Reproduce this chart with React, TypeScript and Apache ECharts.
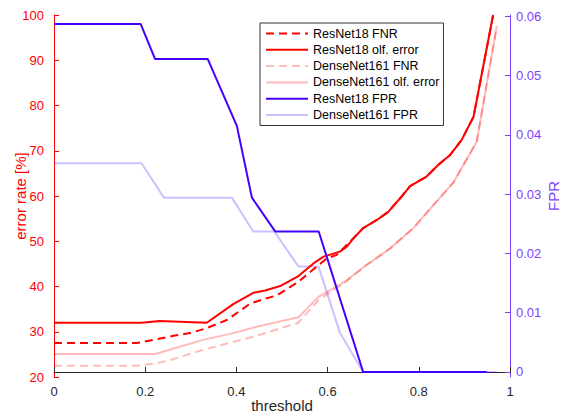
import React, { useEffect, useRef } from "react";
import * as echarts from "echarts";

// ResNet18 olf. error
const resErrX = [0, 0.192, 0.232, 0.335, 0.393, 0.437, 0.463, 0.496, 0.536, 0.569, 0.591, 0.627, 0.642, 0.66, 0.678, 0.708, 0.733, 0.759, 0.781, 0.817, 0.843, 0.868, 0.894, 0.92, 0.963];
const resErrY = [32.0, 32.0, 32.4, 32.0, 36.1, 38.6, 39.1, 40.1, 42.3, 45.1, 46.6, 47.7, 48.8, 51.0, 52.9, 54.7, 56.5, 59.5, 62.2, 64.3, 66.9, 69.0, 72.4, 77.5, 100];
// ResNet18 FNR
const resFnrX = [0, 0.181, 0.218, 0.262, 0.298, 0.335, 0.379, 0.43, 0.459, 0.488, 0.534, 0.569, 0.598, 0.62, 0.645, 0.66, 0.678, 0.708, 0.733, 0.759, 0.781, 0.817, 0.843, 0.868, 0.894, 0.92, 0.963];
const resFnrY = [27.5, 27.5, 28.2, 29.1, 29.7, 30.8, 32.6, 36.2, 37.2, 38.0, 40.9, 43.8, 46.2, 47.0, 49.5, 51.0, 52.9, 54.7, 56.5, 59.5, 62.2, 64.3, 66.9, 69.0, 72.4, 77.5, 100];
// DenseNet161 olf. error
const denErrX = [0, 0.2215, 0.327, 0.393, 0.444, 0.536, 0.58, 0.638, 0.686, 0.737, 0.788, 0.832, 0.876, 0.927, 0.971];
const denErrY = [25.1, 25.1, 28.2, 29.7, 31.1, 33.2, 37.7, 41.1, 44.8, 48.4, 52.9, 58.0, 63.0, 72.0, 97.5];
// DenseNet161 FNR
const denFnrX = [0, 0.181, 0.2215, 0.247, 0.327, 0.444, 0.536, 0.58, 0.638, 0.686, 0.737, 0.788, 0.832, 0.876, 0.927, 0.971];
const denFnrY = [22.5, 22.5, 23.0, 23.5, 26.0, 29.1, 32.0, 37.0, 40.9, 44.8, 48.4, 52.9, 58.0, 63.0, 72.0, 97.5];
// ResNet18 FPR
const resFprX = [0, 0.19, 0.2215, 0.337, 0.401, 0.434, 0.485, 0.5805, 0.678, 0.949];
const resFprY = [0.0587, 0.0587, 0.0528, 0.0528, 0.0415, 0.0294, 0.0237, 0.0237, 0, 0];
// DenseNet161 FPR
const denFprX = [0, 0.192, 0.241, 0.39, 0.437, 0.483, 0.536, 0.58, 0.627, 0.678, 0.971];
const denFprY = [0.0352, 0.0352, 0.0294, 0.0294, 0.0237, 0.0237, 0.0178, 0.0178, 0.0066, 0, 0];

const fprTicks = [0, 0.01, 0.02, 0.03, 0.04, 0.05, 0.06];
const legendNames = [
  "ResNet18 FNR",
  "ResNet18 olf. error",
  "DenseNet161 FNR",
  "DenseNet161 olf. error",
  "ResNet18 FPR",
  "DenseNet161 FPR",
];

const zip = (xs: number[], ys: number[]) => xs.map((x, i) => [x, ys[i]]);

const FONT = "Liberation Sans, Arial, Helvetica, sans-serif";
const RED = "#ff0000";
const LIGHT_RED = "rgba(255,0,0,0.27)";
const BLUE = "#4400ff";
const LIGHT_BLUE = "rgba(68,0,255,0.25)";
const PURPLE = "#7f3fff";
const GRAY = "#262626";

export default function App() {
  const ref = useRef<HTMLDivElement>(null);
  useEffect(() => {
    if (!ref.current) return;
    const chart = echarts.init(ref.current, undefined, { renderer: "svg" });
    const line = (name: string, data: number[][], color: string, dashed: boolean, yAxisIndex: number) => ({
      name,
      type: "line",
      data,
      yAxisIndex,
      symbol: "none",
      showSymbol: false,
      lineStyle: { color, width: 2, type: dashed ? [8, 5] : "solid" },
      itemStyle: { color },
      emphasis: { disabled: true },
    });
    chart.setOption({
      animation: false,
      textStyle: { fontFamily: FONT },
      grid: { left: 54, right: 55, top: 15, bottom: 39, outerBoundsMode: "none", containLabel: false },
      legend: {
        data: legendNames,
        orient: "vertical",
        left: 260,
        top: 23,
        itemWidth: 42,
        itemHeight: 14,
        itemGap: 3.3,
        padding: [4, 4, 4, 5],
        borderColor: "#333",
        borderWidth: 1,
        backgroundColor: "#fff",
        itemStyle: { opacity: 0 },
        textStyle: { fontSize: 12.5, color: "#000", fontFamily: FONT },
      },
      xAxis: {
        type: "value",
        min: 0,
        max: 1,
        interval: 0.2,
        name: "threshold",
        nameLocation: "middle",
        nameGap: 21,
        nameMoveOverlap: false,
        nameTextStyle: { fontSize: 15, color: GRAY, fontFamily: FONT },
        axisLine: { lineStyle: { color: GRAY, width: 1 } },
        axisTick: { inside: true, length: 5, lineStyle: { color: GRAY } },
        axisLabel: { fontSize: 13, color: GRAY, margin: 8, fontFamily: FONT },
        splitLine: { show: false },
      },
      yAxis: [
        {
          type: "value",
          position: "left",
          min: 20,
          max: 100,
          interval: 10,
          name: "error rate [%]",
          nameLocation: "middle",
          nameRotate: 90,
          nameGap: 26,
          nameMoveOverlap: false,
          nameTextStyle: { fontSize: 15, color: RED, fontFamily: FONT },
          axisLine: { show: true, lineStyle: { color: RED, width: 1 } },
          axisTick: { show: true, inside: true, length: 5, lineStyle: { color: RED } },
          axisLabel: { fontSize: 13, color: RED, margin: 10, fontFamily: FONT },
          splitLine: { show: false },
        },
        {
          type: "value",
          position: "right",
          min: -0.00085,
          max: 0.0602,
          name: "FPR",
          nameLocation: "middle",
          nameRotate: 90,
          nameGap: 36,
          nameMoveOverlap: false,
          nameTextStyle: { fontSize: 15, color: PURPLE, fontFamily: FONT },
          axisLine: { show: true, lineStyle: { color: PURPLE, width: 1 } },
          axisTick: { show: true, inside: true, length: 5, lineStyle: { color: PURPLE }, customValues: fprTicks },
          axisLabel: { fontSize: 13, color: PURPLE, margin: 6, fontFamily: FONT, customValues: fprTicks },
          splitLine: { show: false },
        },
      ],
      series: [
        line("DenseNet161 FPR", zip(denFprX, denFprY), LIGHT_BLUE, false, 1),
        line("DenseNet161 FNR", zip(denFnrX, denFnrY), LIGHT_RED, true, 0),
        line("DenseNet161 olf. error", zip(denErrX, denErrY), LIGHT_RED, false, 0),
        line("ResNet18 FNR", zip(resFnrX, resFnrY), RED, true, 0),
        line("ResNet18 olf. error", zip(resErrX, resErrY), RED, false, 0),
        line("ResNet18 FPR", zip(resFprX, resFprY), BLUE, false, 1),
      ],
    });
    return () => chart.dispose();
  }, []);
  return <div ref={ref} style={{ position: "absolute", left: 0, top: 0, width: 565, height: 416 }} />;
}
